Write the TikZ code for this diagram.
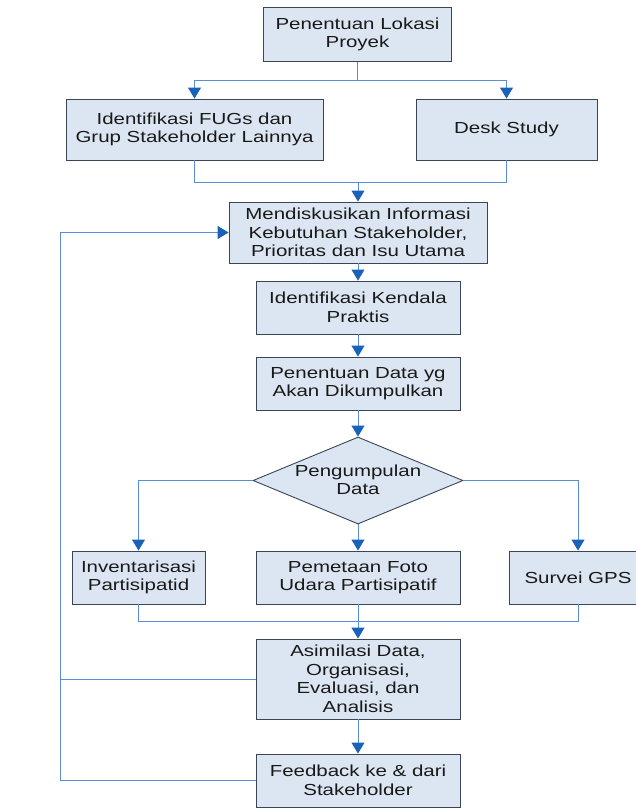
\documentclass[tikz,border=0pt]{standalone}
\usepackage{fontspec}
\setmainfont{Liberation Sans}[FakeStretch=1.28]
\usetikzlibrary{arrows.meta,shapes.geometric,calc}
\definecolor{boxfill}{HTML}{DCE6F2}
\definecolor{boxline}{HTML}{3A4656}
\definecolor{linkline}{HTML}{5A8ED4}
\definecolor{tipblue}{HTML}{1A62B8}
\begin{document}
\begin{tikzpicture}[x=1pt,y=-1pt,
  stepbox/.style={draw=boxline,line width=0.9pt,fill=boxfill,rectangle,inner sep=0pt,
    align=center,font=\fontsize{16}{18.5}\selectfont,text=black!90},
  decision/.style={draw=boxline,line width=0.9pt,fill=boxfill,diamond,inner sep=0pt},
  link/.style={draw=linkline,line width=0.9pt},
  flow/.style={link,-{Triangle[width=13pt,length=11pt,fill=tipblue,color=tipblue]}},
  lbl/.style={align=center,font=\fontsize{16}{18.5}\selectfont,text=black!90,inner sep=0pt}]
\useasboundingbox (0,0) rectangle (635,809);
\fill[white] (0,0) rectangle (635,809);

% process boxes
\node[stepbox,minimum width=188pt,minimum height=54pt] (lokasi) at (357.5,34.5) {Penentuan Lokasi\\Proyek};
\node[stepbox,minimum width=257pt,minimum height=61pt] (fugs) at (194.5,129.5) {Identifikasi FUGs dan\\Grup Stakeholder Lainnya};
\node[stepbox,minimum width=181pt,minimum height=61pt] (desk) at (506.5,129.5) {Desk Study};
\node[stepbox,minimum width=258pt,minimum height=61pt] (diskusi) at (358,232.5) {Mendiskusikan Informasi\\Kebutuhan Stakeholder,\\Prioritas dan Isu Utama};
\node[stepbox,minimum width=204pt,minimum height=53pt] (kendala) at (358,307.5) {Identifikasi Kendala\\Praktis};
\node[stepbox,minimum width=204pt,minimum height=53pt] (datayg) at (358,383.5) {Penentuan Data yg\\Akan Dikumpulkan};

% decision
\node[decision,minimum width=210pt,minimum height=87pt] (kumpul) at (358,480.5) {};
\node[lbl] (kumpultxt) at (358,480) {Pengumpulan\\Data};

% collection methods
\node[stepbox,minimum width=133pt,minimum height=53pt] (invent) at (138.5,577.5) {Inventarisasi\\Partisipatid};
\node[stepbox,minimum width=204pt,minimum height=53pt] (foto) at (358,577.5) {Pemetaan Foto\\Udara Partisipatif};
\node[stepbox,minimum width=138pt,minimum height=53pt] (gps) at (578,577.5) {Survei GPS};

% analysis and feedback
\node[stepbox,minimum width=204pt,minimum height=80pt] (asimilasi) at (358,679) {Asimilasi Data,\\Organisasi,\\Evaluasi, dan\\Analisis};
\node[stepbox,minimum width=204pt,minimum height=53pt] (feedback) at (358,780.5) {Feedback ke \& dari\\Stakeholder};

% junction points
\coordinate (split) at (357.5,80);
\coordinate (merge) at (358,182);
\coordinate (merge2) at (358,621);
\coordinate (loopbot) at (60,780.5);
\coordinate (looptop) at (60,232.5);
\coordinate (loopmid) at (60,679);

% connectors
\draw[link] (lokasi.south) -- (split);
\draw[flow] (split) -| (fugs.north);
\draw[flow] (split) -| (desk.north);
\draw[link] (fugs.south) |- (merge);
\draw[link] (desk.south) |- (merge);
\draw[flow] (merge) -- (diskusi.north);
\draw[flow] (diskusi.south) -- (kendala.north);
\draw[flow] (kendala.south) -- (datayg.north);
\draw[flow] (datayg.south) -- (kumpul.north);
\draw[flow] (kumpul.west) -| (invent.north);
\draw[flow] (kumpul.east) -| (gps.north);
\draw[flow] (kumpul.south) -- (foto.north);
\draw[link] (invent.south) |- (merge2);
\draw[link] (gps.south) |- (merge2);
\draw[link] (foto.south) -- (merge2);
\draw[flow] (merge2) -- (asimilasi.north);
\draw[flow] (asimilasi.south) -- (feedback.north);
\draw[link] (feedback.west) -- (loopbot) -- (looptop);
\draw[flow] (looptop) -- (diskusi.west);
\draw[link] (asimilasi.west) -- (loopmid);
\end{tikzpicture}
\end{document}
